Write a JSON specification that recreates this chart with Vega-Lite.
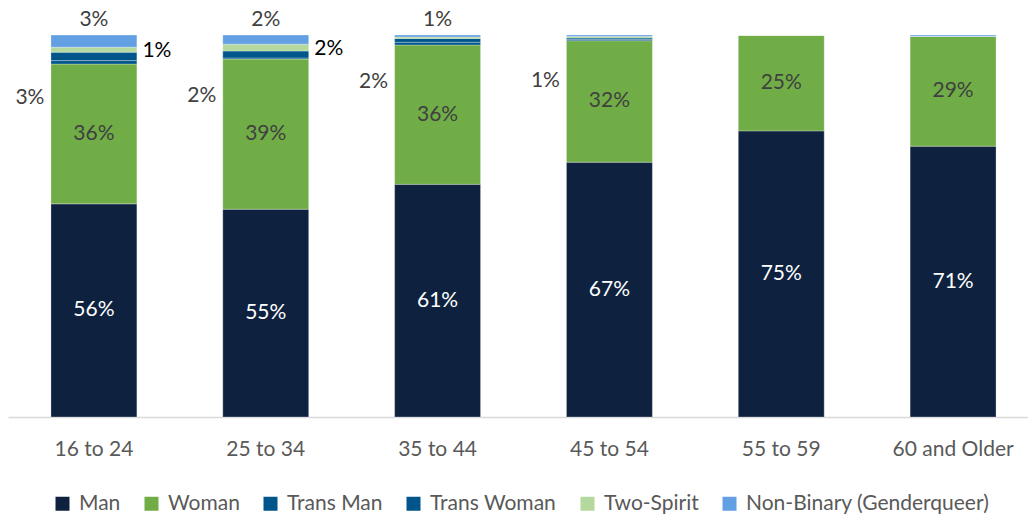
{
  "$schema": "https://vega.github.io/schema/vega-lite/v6.json",
  "width": 1020,
  "height": 382,
  "autosize": "none",
  "padding": {"left": 8, "top": 35, "right": 0, "bottom": 97},
  "background": "white",
  "config": {"view": {"stroke": null}, "font": "Lato"},
  "data": {"values": [
    {"group": "16 to 24", "gender": "Man", "ord": 1, "value": 55.8, "label": "56%"},
    {"group": "16 to 24", "gender": "Woman", "ord": 2, "value": 36.6, "label": "36%"},
    {"group": "16 to 24", "gender": "Trans Man", "ord": 3, "value": 0.9, "label": ""},
    {"group": "16 to 24", "gender": "Trans Woman", "ord": 4, "value": 2.2, "label": "3%"},
    {"group": "16 to 24", "gender": "Two-Spirit", "ord": 5, "value": 1.3, "label": "1%"},
    {"group": "16 to 24", "gender": "Non-Binary (Genderqueer)", "ord": 6, "value": 3.2, "label": "3%"},
    {"group": "25 to 34", "gender": "Man", "ord": 1, "value": 54.4, "label": "55%"},
    {"group": "25 to 34", "gender": "Woman", "ord": 2, "value": 39.3, "label": "39%"},
    {"group": "25 to 34", "gender": "Trans Man", "ord": 3, "value": 0.3, "label": ""},
    {"group": "25 to 34", "gender": "Trans Woman", "ord": 4, "value": 1.8, "label": "2%"},
    {"group": "25 to 34", "gender": "Two-Spirit", "ord": 5, "value": 1.8, "label": "2%"},
    {"group": "25 to 34", "gender": "Non-Binary (Genderqueer)", "ord": 6, "value": 2.4, "label": "2%"},
    {"group": "35 to 44", "gender": "Man", "ord": 1, "value": 60.9, "label": "61%"},
    {"group": "35 to 44", "gender": "Woman", "ord": 2, "value": 36.5, "label": "36%"},
    {"group": "35 to 44", "gender": "Trans Man", "ord": 3, "value": 0.7, "label": ""},
    {"group": "35 to 44", "gender": "Trans Woman", "ord": 4, "value": 1.0, "label": "2%"},
    {"group": "35 to 44", "gender": "Two-Spirit", "ord": 5, "value": 0.4, "label": ""},
    {"group": "35 to 44", "gender": "Non-Binary (Genderqueer)", "ord": 6, "value": 0.5, "label": "1%"},
    {"group": "45 to 54", "gender": "Man", "ord": 1, "value": 66.7, "label": "67%"},
    {"group": "45 to 54", "gender": "Woman", "ord": 2, "value": 31.8, "label": "32%"},
    {"group": "45 to 54", "gender": "Trans Man", "ord": 3, "value": 0.3, "label": ""},
    {"group": "45 to 54", "gender": "Trans Woman", "ord": 4, "value": 0.4, "label": "1%"},
    {"group": "45 to 54", "gender": "Two-Spirit", "ord": 5, "value": 0.4, "label": ""},
    {"group": "45 to 54", "gender": "Non-Binary (Genderqueer)", "ord": 6, "value": 0.4, "label": ""},
    {"group": "55 to 59", "gender": "Man", "ord": 1, "value": 74.9, "label": "75%"},
    {"group": "55 to 59", "gender": "Woman", "ord": 2, "value": 25.0, "label": "25%"},
    {"group": "55 to 59", "gender": "Trans Man", "ord": 3, "value": 0, "label": ""},
    {"group": "55 to 59", "gender": "Trans Woman", "ord": 4, "value": 0, "label": ""},
    {"group": "55 to 59", "gender": "Two-Spirit", "ord": 5, "value": 0.1, "label": ""},
    {"group": "55 to 59", "gender": "Non-Binary (Genderqueer)", "ord": 6, "value": 0, "label": ""},
    {"group": "60 and Older", "gender": "Man", "ord": 1, "value": 70.9, "label": "71%"},
    {"group": "60 and Older", "gender": "Woman", "ord": 2, "value": 28.8, "label": "29%"},
    {"group": "60 and Older", "gender": "Trans Man", "ord": 3, "value": 0, "label": ""},
    {"group": "60 and Older", "gender": "Trans Woman", "ord": 4, "value": 0, "label": ""},
    {"group": "60 and Older", "gender": "Two-Spirit", "ord": 5, "value": 0, "label": ""},
    {"group": "60 and Older", "gender": "Non-Binary (Genderqueer)", "ord": 6, "value": 0.3, "label": ""}
  ]},
  "transform": [
    {"stack": "value", "groupby": ["group"], "sort": [{"field": "ord", "order": "ascending"}], "as": ["v0", "v1"]},
    {"calculate": "(datum.v0 + datum.v1) / 2", "as": "mid"}
  ],
  "encoding": {
    "x": {
      "field": "group", "type": "nominal",
      "sort": ["16 to 24", "25 to 34", "35 to 44", "45 to 54", "55 to 59", "60 and Older"],
      "scale": {"range": [0, 1031], "paddingInner": 0.5, "paddingOuter": 0.25},
      "axis": {"title": null, "labelAngle": 0, "labelFontSize": 21, "labelColor": "#595959", "labelPadding": 21, "ticks": false, "domainColor": "#d9d9d9", "domainWidth": 1.5, "grid": false}
    }
  },
  "layer": [
    {
      "mark": {"type": "bar", "stroke": "white", "strokeWidth": 0.4, "strokeOpacity": 0.7},
      "encoding": {
        "y": {"field": "v0", "type": "quantitative", "scale": {"domain": [0, 100], "nice": false}, "axis": null},
        "y2": {"field": "v1"},
        "color": {
          "field": "gender", "type": "nominal",
          "scale": {
            "domain": ["Man", "Woman", "Trans Man", "Trans Woman", "Two-Spirit", "Non-Binary (Genderqueer)"],
            "range": ["#0e2240", "#70ad47", "#00568b", "#00568b", "#b4d89d", "#63a0e3"]
          },
          "legend": {
            "title": null, "orient": "none", "direction": "horizontal", "legendX": 44, "legendY": 458,
            "symbolType": "square", "symbolSize": 196, "symbolStrokeWidth": 0, "symbolOpacity": 1,
            "labelFontSize": 21, "labelColor": "#595959", "labelOffset": 6, "columnPadding": 20, "labelLimit": 400
          }
        },
        "order": {"field": "ord"}
      }
    },
    {
      "transform": [{"filter": "datum.ord == 1"}],
      "mark": {"type": "text", "fontSize": 21, "color": "white", "baseline": "middle"},
      "encoding": {"y": {"field": "mid", "type": "quantitative"}, "text": {"field": "label"}}
    },
    {
      "transform": [{"filter": "datum.ord == 2"}],
      "mark": {"type": "text", "fontSize": 21, "color": "#404040", "baseline": "middle"},
      "encoding": {"y": {"field": "mid", "type": "quantitative"}, "text": {"field": "label"}}
    },
    {
      "transform": [{"filter": "datum.ord == 4"}],
      "mark": {"type": "text", "fontSize": 21, "color": "#404040", "baseline": "middle", "dx": -64, "dy": 42},
      "encoding": {"y": {"field": "mid", "type": "quantitative"}, "text": {"field": "label"}}
    },
    {
      "transform": [{"filter": "datum.ord == 5"}],
      "mark": {"type": "text", "fontSize": 21, "color": "#000000", "baseline": "middle", "dx": 63, "dy": 1},
      "encoding": {"y": {"field": "mid", "type": "quantitative"}, "text": {"field": "label"}}
    },
    {
      "transform": [{"filter": "datum.ord == 6"}],
      "mark": {"type": "text", "fontSize": 21, "color": "#404040", "baseline": "middle", "dy": -15},
      "encoding": {"y": {"field": "v1", "type": "quantitative"}, "text": {"field": "label"}}
    }
  ]
}
